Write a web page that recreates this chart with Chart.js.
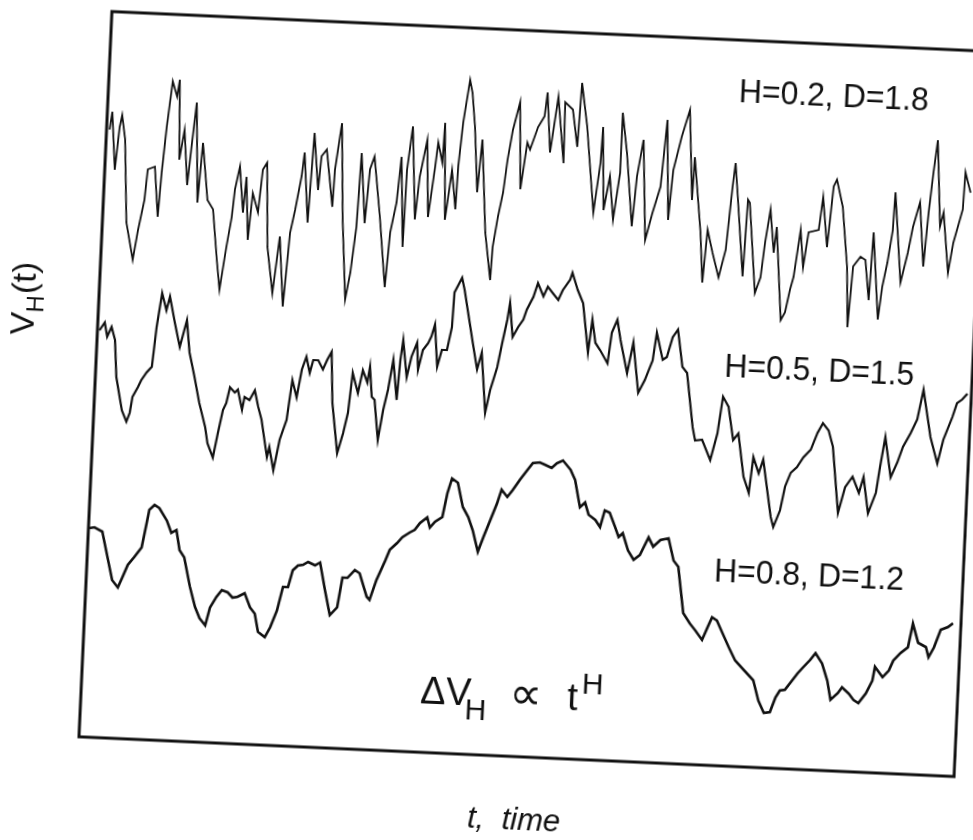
<!DOCTYPE html>
<html>
<head>
<meta charset="utf-8">
<script src="https://cdn.jsdelivr.net/npm/chart.js@4.4.0/dist/chart.umd.min.js"></script>
<style>
  html, body { margin: 0; padding: 0; background: #fff; overflow: hidden; }
  #wrap { position: relative; width: 973px; height: 840px; }
  /* the scanned figure sits a little skewed on the page */
  #chart { position: absolute; left: 0; top: 0; transform: rotate(2.6deg); transform-origin: 532px 394px; }
</style>
</head>
<body>
<div id="wrap"><canvas id="chart" width="973" height="840"></canvas></div>
<script>
// time axis 0..87.6, V axis 0..72.6 (arbitrary units)
const curveNames = ['H=0.2, D=1.8', 'H=0.5, D=1.5', 'H=0.8, D=1.2'];

const h02T = [0.3,0.5,1.0,1.3,1.5,1.9,2.4,3.2,3.6,4.1,4.3,5.0,5.5,5.7,6.0,6.4,6.9,7.1,7.4,7.8,8.3,8.6,8.9,9.4,9.7,10.4,11.0,11.6,12.0,12.5,12.9,13.1,13.5,14.0,14.2,14.6,14.9,15.5,15.8,16.2,16.6,17.3,17.8,18.4,18.8,19.2,19.7,19.9,20.5,
  20.8,21.4,21.6,22.1,22.9,23.0,23.5,24.0,24.6,25.0,25.4,25.6,26.2,26.5,26.9,27.7,28.5,28.8,29.3,29.6,30.1,30.2,30.6,31.2,31.5,32.1,32.5,33.0,33.2,33.7,33.8,34.2,34.7,35.2,35.3,35.6,36.1,36.4,36.8,37.3,37.6,38.3,39.0,39.1,39.5,39.9,40.2,40.6,41.2,41.6,42.1,
  42.4,43.1,43.7,43.9,44.4,45.0,45.8,45.7,46.5,47.1,47.3,48.0,49.0,49.5,49.6,50.0,50.5,51.0,51.5,51.5,52.1,52.9,53.2,53.7,54.3,54.9,55.6,56.0,56.5,56.8,57.5,58.2,58.8,58.9,59.8,60.2,60.5,61.1,61.8,62.4,62.8,63.0,63.4,64.2,64.4,
  64.6,65.5,66.0,66.3,66.7,67.2,67.4,68.2,68.6,69.0,69.3,69.8,70.2,70.6,71.6,71.9,72.5,72.9,73.2,73.9,74.6,74.9,75.2,75.9,76.4,76.9,77.1,77.9,78.2,78.6,79.0,79.1,80.0,80.6,81.0,81.6,82.2,82.5,82.8,83.1,83.7,84.0,84.7,85.1,85.9,86.0,86.6];
const h02V = [60.8,62.6,56.8,61.1,62.3,59.9,51.6,47.9,50.9,53.9,57.0,57.3,52.3,56.7,61.3,65.9,64.4,66.1,58.1,61.1,55.6,59.9,63.9,53.9,59.9,54.2,53.3,48.3,45.3,49.6,52.6,55.4,57.7,53.1,56.7,50.4,55.1,53.2,57.5,58.2,49.8,45.2,50.9,43.9,51.3,53.6,57.0,59.4,52.4,
  61.4,55.7,59.1,59.8,54.1,57.8,62.5,52.8,44.9,47.6,52.2,59.6,52.6,58.0,59.3,53.3,46.3,51.8,54.8,59.4,50.4,58.1,62.5,53.2,57.5,61.2,53.5,58.6,61.0,59.0,63.0,53.3,58.3,54.4,58.7,63.1,67.4,66.1,62.7,56.2,61.5,52.2,47.5,50.8,53.9,56.3,59.6,62.6,65.4,56.7,61.4,
  60.7,63.0,64.1,66.5,60.5,66.1,59.5,65.6,64.9,61.2,67.6,63.3,54.7,59.7,63.3,55.0,58.4,54.1,58.8,64.8,60.8,53.5,58.5,62.2,52.2,54.9,57.6,64.3,54.3,59.3,62.7,65.4,56.4,60.7,53.2,48.2,53.5,51.2,48.8,51.6,57.9,60.3,56.6,49.0,56.7,
  56.4,47.4,49.0,52.5,55.8,51.5,54.1,44.8,45.6,47.9,49.2,53.9,50.2,53.7,54.0,57.3,52.3,58.4,59.1,56.4,50.4,44.4,50.5,51.5,51.2,47.2,54.0,45.3,48.6,51.0,54.3,58.1,49.1,52.1,54.7,57.2,50.8,56.2,60.2,63.5,54.9,56.3,50.3,53.3,56.7,60.4,58.4];

const h05T = [0.2,0.7,1.0,1.4,1.8,2.1,2.8,3.3,3.6,3.8,4.3,4.6,5.1,5.6,5.9,6.3,6.8,7.1,7.7,8.3,8.9,9.3,9.9,10.5,11.2,11.5,12.1,12.5,12.9,13.2,13.5,14.0,14.3,14.8,15.0,15.5,16.0,16.4,16.8,17.5,17.7,18.2,18.7,19.3,19.7,20.2,20.6,21.0,
  21.4,21.7,22.2,22.7,23.1,23.5,23.8,24.5,25.0,25.4,25.7,26.3,26.7,27.2,27.4,27.7,28.0,28.5,28.9,29.3,29.7,30.2,30.4,30.6,31.1,31.5,32.0,32.2,32.6,33.1,33.4,33.7,34.1,34.5,35.0,35.4,35.5,36.2,36.5,36.9,37.5,38.1,38.5,39.1,39.5,40.1,40.5,40.9,41.1,41.5,42.0,42.5,42.8,
  43.4,43.8,44.4,44.8,45.3,45.9,46.3,47.0,47.2,47.8,48.4,49.1,49.4,49.8,50.3,51.1,51.4,51.9,52.3,53.1,53.6,54.3,54.9,55.6,55.9,56.6,57.0,57.5,58.0,58.6,59.1,59.9,60.2,60.9,61.8,62.4,62.8,63.4,64.0,64.5,65.2,65.8,
  66.1,66.7,67.1,68.1,68.4,69.0,69.4,69.9,70.5,71.1,71.8,72.4,72.9,73.5,74.0,74.8,75.4,76.1,76.8,77.2,77.8,78.5,78.8,79.2,79.9,80.5,81.0,81.7,82.3,82.8,83.7,84.5,85.0,85.8,86.2,86.7,87.2];
const h05V = [40.7,41.5,40.1,41.1,39.8,36.1,32.8,31.7,32.6,34.2,35.2,35.9,36.7,37.3,41.3,44.7,43.0,44.4,41.8,39.4,42.1,38.9,36.5,33.9,31.5,29.9,28.5,31.0,33.3,34.0,35.6,35.1,35.4,33.4,34.7,34.4,35.4,33.8,32.5,28.8,29.8,27.5,30.6,32.6,36.6,34.9,37.7,39.0,
  37.4,38.7,38.7,37.8,38.8,39.6,34.5,29.5,31.5,33.6,37.6,35.6,37.9,36.7,38.3,35.3,35.0,31.0,34.0,36.1,39.1,35.1,39.1,41.1,37.4,39.5,40.9,38.2,40.2,40.9,41.6,42.8,38.6,40.3,40.3,42.6,46.1,47.6,46.4,44.4,41.4,38.5,40.2,34.2,36.5,38.8,41.3,43.6,45.3,41.9,42.9,43.7,44.7,
  46.0,47.4,46.1,47.1,46.5,45.8,46.8,47.9,48.6,46.9,45.6,40.7,44.0,41.7,41.0,39.7,42.8,44.1,42.1,38.8,41.9,36.9,38.2,40.2,43.0,40.3,40.6,42.6,43.4,39.7,39.1,33.7,32.4,32.5,30.5,33.2,36.9,35.9,32.6,33.3,29.0,27.4,
  31.0,29.4,30.8,25.1,24.1,25.8,28.2,29.6,30.2,31.2,32.0,33.7,34.7,34.0,32.4,25.8,28.4,29.5,27.9,29.5,25.9,28.0,30.6,33.6,29.6,31.1,32.7,34.1,35.5,38.5,33.8,31.2,33.6,35.9,37.3,37.7,38.3];

const h08T = [0.1,0.6,1.4,2.1,2.6,3.2,3.6,4.1,4.7,5.4,5.8,6.0,6.5,7.0,7.8,8.3,8.8,9.2,9.7,10.4,11.0,11.5,12.1,12.5,13.1,13.6,14.2,14.7,15.2,15.9,16.5,17.0,17.4,18.1,18.6,19.2,19.7,20.2,20.6,21.1,21.6,22.1,
  22.8,23.3,23.9,24.5,25.2,25.6,26.1,26.8,27.3,28.1,28.4,29.0,29.8,30.2,30.9,31.4,32.1,32.6,33.1,33.8,34.1,34.6,35.3,35.7,36.1,36.7,37.3,37.9,38.4,39.0,39.5,40.1,40.7,41.1,41.7,42.2,42.9,43.6,
  44.1,44.8,45.3,46.0,46.5,47.1,47.9,48.4,49.0,49.5,49.9,50.6,51.1,51.5,52.0,52.6,53.0,53.4,54.0,54.6,55.2,56.0,56.5,57.2,58.0,58.6,59.1,59.8,60.5,61.1,61.8,62.3,62.7,63.2,63.8,64.5,65.2,66.1,66.8,
  67.1,67.7,68.3,68.9,69.4,69.8,70.3,70.8,71.5,72.0,72.7,73.2,73.9,74.5,74.9,75.6,76.0,76.7,77.2,77.7,78.4,79.0,79.2,80.0,80.6,81.0,81.7,82.4,82.8,83.4,84.2,84.5,85.0,85.6,86.3,86.8];
const h08V = [20.9,21.0,20.6,17.8,15.8,15.1,16.1,17.4,18.2,19.2,21.7,23.0,23.5,23.2,22.0,20.8,21.1,19.1,18.4,15.5,13.5,12.4,11.7,13.5,14.6,15.3,15.1,14.6,14.7,15.1,13.7,13.1,11.3,10.8,11.8,13.5,15.9,15.9,17.6,18.1,18.2,18.5,
  18.2,18.5,15.8,13.3,14.1,17.1,17.1,17.9,17.6,15.3,15.0,17.0,19.0,20.1,20.8,21.4,21.9,22.2,22.9,23.5,22.5,23.1,23.6,26.0,27.5,27.1,24.7,23.7,22.4,20.3,21.8,23.5,25.2,26.6,25.9,26.6,27.7,28.7,
  29.4,29.5,29.3,29.0,29.5,29.8,28.9,27.9,25.2,25.7,24.5,24.0,23.3,25.0,24.8,23.4,22.4,22.8,21.1,20.2,20.7,22.5,21.6,22.3,22.5,20.3,19.7,15.1,14.1,13.4,12.5,13.8,14.8,14.5,13.3,11.9,10.6,9.7,9.0,
  8.7,6.7,5.5,5.6,7.1,7.8,7.9,8.6,9.6,10.2,11.0,11.7,10.7,9.0,7.1,7.8,8.4,7.8,7.2,6.9,7.9,9.2,10.6,9.6,10.3,11.3,12.1,12.7,15.1,13.2,12.8,11.8,12.8,14.6,14.9,15.3];

const ink = '#111';
const pts = (ts, vs) => ts.map((t, i) => ({ x: t, y: vs[i] }));

const textFont = '"Liberation Sans", "DejaVu Sans", Arial, sans-serif';

// box, curve names, formula and axis titles
const decorations = {
  id: 'decorations',
  afterDatasetsDraw(chart) {
    const { ctx, chartArea: a, scales: { x, y } } = chart;
    ctx.save();
    ctx.strokeStyle = ink;
    ctx.lineWidth = 3;
    ctx.strokeRect(a.left, a.top, a.right - a.left, a.bottom - a.top);

    ctx.fillStyle = ink;
    const nameAt = [[72.5, 67.3], [72.3, 39.8], [72.2, 19.3]];
    ctx.font = '34px ' + textFont;
    ctx.textAlign = 'center';
    ctx.textBaseline = 'middle';
    curveNames.forEach((name, i) => {
      ctx.save();
      ctx.translate(x.getPixelForValue(nameAt[i][0]), y.getPixelForValue(nameAt[i][1]));
      ctx.scale(0.94, 1);
      ctx.fillText(name, 0, 0);
      ctx.restore();
    });

    // ΔV_H ∝ t^H
    const fx = x.getPixelForValue(33.9), fy = y.getPixelForValue(4.9);
    ctx.textAlign = 'left';
    ctx.textBaseline = 'alphabetic';
    ctx.font = '38px ' + textFont;
    ctx.fillText('ΔV', fx, fy);
    ctx.fillText('t', fx + 147, fy);
    ctx.font = '46px ' + textFont;
    ctx.fillText('∝', fx + 89, fy + 1);
    ctx.font = '30px ' + textFont;
    ctx.fillText('H', fx + 45, fy + 14);
    ctx.fillText('H', fx + 161, fy - 17);

    // axis titles
    ctx.font = 'italic 31px ' + textFont;
    ctx.textAlign = 'center';
    ctx.fillText('t,  time', (a.left + a.right) / 2, a.bottom + 73);

    ctx.save();
    ctx.translate(a.left - 64, (a.top + a.bottom) / 2 - 80);
    ctx.rotate(-Math.PI / 2);
    ctx.textAlign = 'left';
    ctx.font = '34px ' + textFont;
    const w1 = ctx.measureText('V').width;
    const startX = -44;
    ctx.fillText('V', startX, 0);
    ctx.font = '24px ' + textFont;
    ctx.fillText('H', startX + w1, 9);
    const w2 = ctx.measureText('H').width;
    ctx.font = '34px ' + textFont;
    ctx.fillText('(t)', startX + w1 + w2 + 1, 0);
    ctx.restore();

    ctx.restore();
  }
};

const line = (data, w) => ({
  data, showLine: true, borderColor: ink, borderWidth: w,
  pointRadius: 0, tension: 0, fill: false
});

new Chart(document.getElementById('chart'), {
  type: 'scatter',
  data: {
    datasets: [
      line(pts(h02T, h02V), 1.8),
      line(pts(h05T, h05V), 2.2),
      line(pts(h08T, h08V), 2.6)
    ]
  },
  options: {
    responsive: false,
    animation: false,
    layout: { padding: { left: 95, right: 2, top: 31, bottom: 83 } },
    scales: {
      x: { type: 'linear', min: 0, max: 87.6, display: false },
      y: { type: 'linear', min: 0, max: 72.6, display: false }
    },
    plugins: { legend: { display: false }, tooltip: { enabled: false } }
  },
  plugins: [decorations]
});
</script>
</body>
</html>
